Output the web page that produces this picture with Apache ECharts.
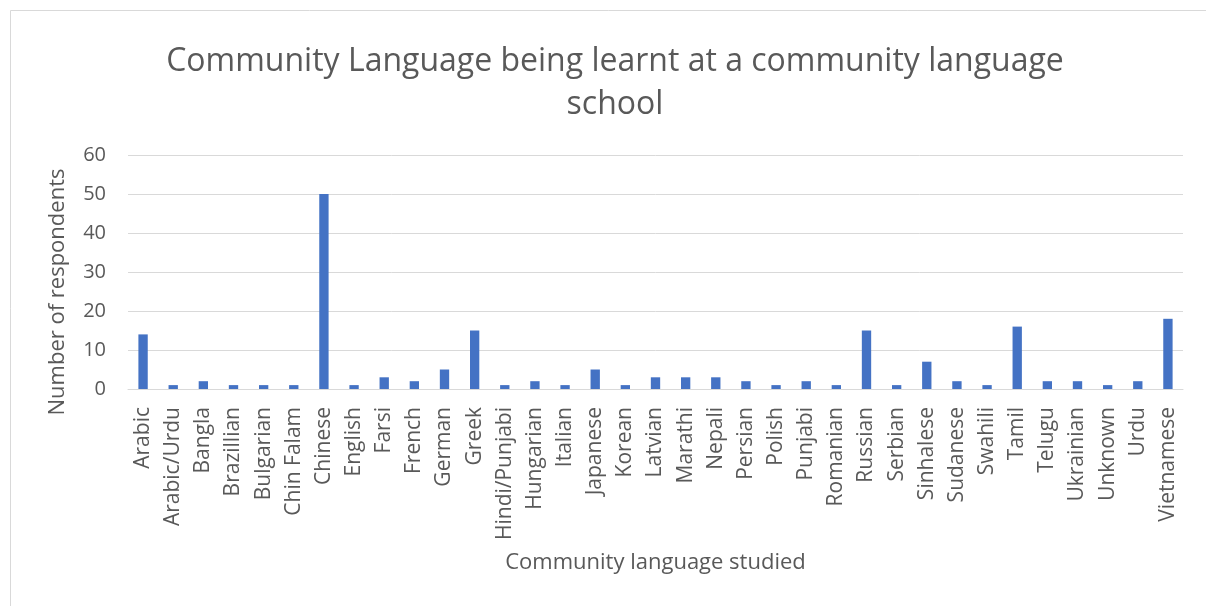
<!DOCTYPE html>
<html>
<head>
<meta charset="utf-8">
<script src="https://cdn.jsdelivr.net/npm/echarts@6/dist/echarts.min.js"></script>
<style>
  html, body { margin: 0; padding: 0; background: #fff; }
  #chart { width: 1206px; height: 606px; }
</style>
</head>
<body>
<div id="chart"></div>
<script>
// Languages studied and number of respondents for each
const languages = ['Arabic', 'Arabic/Urdu', 'Bangla', 'Brazillian', 'Bulgarian', 'Chin Falam', 'Chinese',
  'English', 'Farsi', 'French', 'German', 'Greek', 'Hindi/Punjabi', 'Hungarian', 'Italian', 'Japanese',
  'Korean', 'Latvian', 'Marathi', 'Nepali', 'Persian', 'Polish', 'Punjabi', 'Romanian', 'Russian',
  'Serbian', 'Sinhalese', 'Sudanese', 'Swahili', 'Tamil', 'Telugu', 'Ukrainian', 'Unknown', 'Urdu', 'Vietnamese'];
const respondents = [14, 1, 2, 1, 1, 1, 50, 1, 3, 2, 5, 15, 1, 2, 1, 5, 1, 3, 3, 3, 2, 1, 2, 1, 15, 1, 7, 2, 1, 16, 2, 2, 1, 2, 18];
const yTicks = { min: 0, max: 60, interval: 10 };

const textColor = '#595959';
const font = 'Open Sans';

const chart = echarts.init(document.getElementById('chart'));
chart.setOption({
  animation: false,
  backgroundColor: '#ffffff',
  graphic: [{
    type: 'rect',
    shape: { x: 10.5, y: 10.5, width: 1220, height: 620 },
    style: { fill: 'none', stroke: '#d9d9d9', lineWidth: 1 },
    silent: true
  }],
  title: {
    text: 'Community Language being learnt at a community language\nschool',
    left: 610,
    textAlign: 'center',
    top: 35,
    textStyle: {
      color: textColor,
      fontFamily: font,
      fontWeight: 'normal',
      fontSize: 32,
      lineHeight: 43
    }
  },
  grid: { left: 128, right: 23, top: 155, bottom: 217, containLabel: false },
  xAxis: {
    type: 'category',
    data: languages,
    name: 'Community language studied',
    nameLocation: 'middle',
    nameGap: 163,
    nameTextStyle: { color: textColor, fontFamily: font, fontSize: 22 },
    axisLine: { lineStyle: { color: '#d9d9d9', width: 1 } },
    axisTick: { show: false },
    axisLabel: {
      interval: 0,
      rotate: 90,
      margin: 18,
      color: textColor,
      fontFamily: font,
      fontSize: 21
    }
  },
  yAxis: {
    type: 'value',
    min: yTicks.min,
    max: yTicks.max,
    interval: yTicks.interval,
    name: 'Number of respondents',
    nameLocation: 'middle',
    nameGap: 59,
    nameRotate: 90,
    nameTextStyle: { color: textColor, fontFamily: font, fontSize: 22, padding: [0, 40, 0, 0] },
    axisLine: { show: false },
    axisTick: { show: false },
    splitLine: { lineStyle: { color: '#d9d9d9', width: 1 } },
    axisLabel: { margin: 22, color: textColor, fontFamily: font, fontSize: 20 }
  },
  series: [{
    type: 'bar',
    data: respondents,
    barWidth: '31%',
    itemStyle: { color: '#4472C4' }
  }]
});
</script>
</body>
</html>
